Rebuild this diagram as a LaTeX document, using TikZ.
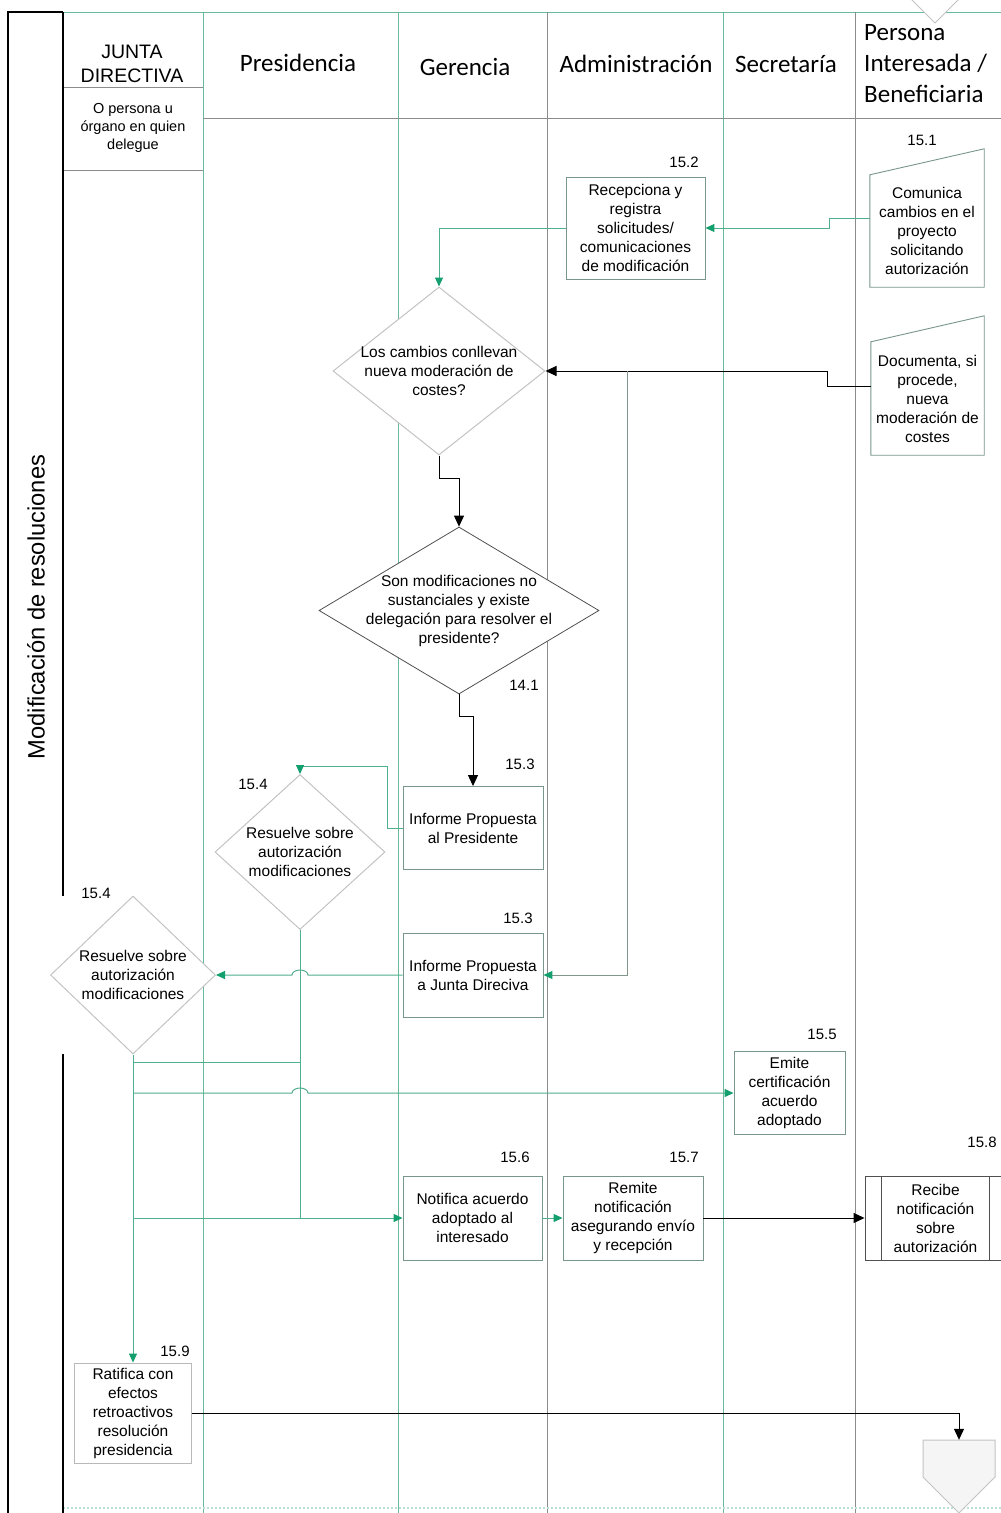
\documentclass[tikz,border=0pt]{standalone}
\usepackage{fontspec}
\setmainfont{Liberation Sans}
\newfontfamily\hdfont{Carlito}
\usetikzlibrary{shapes.geometric,arrows.meta}
\definecolor{lanegreen}{RGB}{105,185,155}
\definecolor{lanegray}{RGB}{140,140,140}
\definecolor{congreen}{RGB}{80,175,140}
\definecolor{headgreen}{RGB}{20,160,110}
\definecolor{boxc}{RGB}{120,150,140}
\definecolor{lightd}{RGB}{195,195,195}
\definecolor{darkb}{RGB}{80,80,80}
\definecolor{splitc}{RGB}{130,150,140}
\begin{document}
\begin{tikzpicture}[x=1pt,y=-1pt,
  body/.style={font=\fontsize{15.5}{19}\selectfont, align=center, inner sep=0pt},
  box/.style={body, draw=boxc, fill=white, line width=0.9pt},
  ghost/.style={body, draw=none},
  dia/.style={diamond, draw=lightd, fill=white, line width=1pt, inner sep=0pt},
  num/.style={font=\fontsize{15}{18}\selectfont, inner sep=0pt},
  hd/.style={font={\hdfont\fontsize{25}{31}\selectfont}, inner sep=0pt},
  lane/.style={lanegreen, line width=1pt},
  laneg/.style={lanegray, line width=1pt},
  gcon/.style={congreen, line width=1pt},
  garrow/.style={gcon, -{Triangle[length=9pt,width=8pt,color=headgreen]}},
  barrow/.style={black, line width=1pt, -{Triangle[length=11pt,width=10pt]}},
]
\useasboundingbox (0,0) rectangle (1001,1513);
\fill[white] (0,0) rectangle (1001,1513);

% swimlanes
\draw[lane] (63,12) -- (1001,12);
\foreach \x in {203,398,723} \draw[lane] (\x,12) -- (\x,1513);
\foreach \x in {547,855} \draw[laneg] (\x,12) -- (\x,1513);
\draw[laneg] (203,118) -- (1001,118);
\draw[laneg] (63,87) -- (203,87);
\draw[laneg] (63,170) -- (203,170);
\draw[lanegreen!45, line width=1.5pt, dash pattern=on 2pt off 2pt] (63,1508) -- (1001,1508);

% headers
\node[font=\fontsize{19.5}{24}\selectfont, align=center, inner sep=0pt] (hjd) at (132,64) {JUNTA\\DIRECTIVA};
\node[font=\fontsize{14.5}{18}\selectfont, align=center, inner sep=0pt] (hdel) at (133,128) {O persona u\\órgano en quien\\delegue};
\node[hd] (hpres) at (298,63) {Presidencia};
\node[hd] (hger) at (465,67) {Gerencia};
\node[hd] (hadm) at (636,64) {Administración};
\node[hd] (hsec) at (786,64) {Secretaría};
\node[hd, align=left, anchor=west] (hper) at (864,64) {Persona\\Interesada /\\Beneficiaria};
\node[rotate=90, font=\fontsize{23.7}{28}\selectfont, inner sep=0pt] (title) at (36,607) {Modificación de resoluciones};

% off-page connectors
\filldraw[draw=lightd, fill=white, line width=1pt] (899,-40) -- (899,-13) -- (935,23) -- (971,-13) -- (971,-40);
\node[draw=none, minimum width=72pt, minimum height=73pt, inner sep=0pt] (opb) at (959,1476.5) {};
\filldraw[draw=lightd, fill=gray!8, line width=1pt] (923,1440) -- (995,1440) -- (995,1477) -- (959,1513) -- (923,1477) -- cycle;

% shapes
\node[ghost, minimum width=114pt, minimum height=112pt] (p151) at (927,231) {Comunica\\cambios en el\\proyecto\\solicitando\\autorización};
\draw[boxc, line width=0.9pt] (p151.south west) -- (p151.south east) -- ([yshift=26pt]p151.north east) -- (p151.north west) -- cycle;
\node[ghost, minimum width=113pt, minimum height=113pt] (doc) at (927.5,398.5) {Documenta, si\\procede,\\nueva\\moderación de\\costes};
\draw[boxc, line width=0.9pt] (doc.south west) -- (doc.south east) -- ([yshift=26pt]doc.north east) -- (doc.north west) -- cycle;

\node[box, minimum width=139pt, minimum height=102pt] (b152) at (635.5,228) {Recepciona y\\registra\\solicitudes/\\comunicaciones\\de modificación};

\node[dia, minimum width=212pt, minimum height=168pt] (d1) at (439,371) {};
\node[ghost] (d1t) at (d1.center) {Los cambios conllevan\\nueva moderación de\\costes?};
\node[dia, draw=darkb, line width=0.8pt, minimum width=280pt, minimum height=167pt] (d2) at (459,610.5) {};
\node[ghost] (d2t) at (d2.center) {Son modificaciones no\\sustanciales y existe\\delegación para resolver el\\presidente?};

\node[box, minimum width=140pt, minimum height=83pt] (b153a) at (473,828) {Informe Propuesta\\al Presidente};
\node[box, minimum width=140pt, minimum height=84pt] (b153b) at (473,975) {Informe Propuesta\\a Junta Direciva};

\node[dia, minimum width=170pt, minimum height=155pt] (d154a) at (300,852) {};
\node[ghost] (d154at) at (d154a.center) {Resuelve sobre\\autorización\\modificaciones};
\node[dia, minimum width=165pt, minimum height=158pt] (d154b) at (133,975) {};
\node[ghost] (d154bt) at (d154b.center) {Resuelve sobre\\autorización\\modificaciones};

\node[box, minimum width=111pt, minimum height=83pt] (b155) at (789.5,1093) {Emite\\certificación\\acuerdo\\adoptado};
\node[box, minimum width=139pt, minimum height=84pt] (b156) at (472.5,1218) {Notifica acuerdo\\adoptado al\\interesado};
\node[box, minimum width=140pt, minimum height=84pt] (b157) at (633,1218) {Remite\\notificación\\asegurando envío\\y recepción};
\node[box, draw=darkb, minimum width=141pt, minimum height=84pt] (b158) at (935.5,1218) {Recibe\\notificación\\sobre\\autorización};
\draw[darkb, line width=0.9pt] ([xshift=17pt]b158.north west) -- ([xshift=17pt]b158.south west);
\draw[darkb, line width=0.9pt] ([xshift=-17pt]b158.north east) -- ([xshift=-17pt]b158.south east);
\node[box, draw=gray!55, minimum width=117pt, minimum height=100pt] (b159) at (133,1413) {Ratifica con\\efectos\\retroactivos\\resolución\\presidencia};

% step numbers
\node[num] (n151) at (922,140) {15.1};
\node[num] (n152) at (684,162) {15.2};
\node[num] (n141) at (524,685) {14.1};
\node[num] (n153a) at (520,764) {15.3};
\node[num] (n154a) at (253,784) {15.4};
\node[num] (n153b) at (518,918) {15.3};
\node[num] (n154b) at (96,893) {15.4};
\node[num] (n155) at (822,1034) {15.5};
\node[num] (n156) at (515,1157) {15.6};
\node[num] (n157) at (684,1157) {15.7};
\node[num] (n158) at (982,1142) {15.8};
\node[num] (n159) at (175,1351) {15.9};

% junction coordinates
\coordinate (split) at (627,371);
\coordinate (ja) at (133,1062);
\coordinate (jb) at (300,1062);
\coordinate (jc) at (133,1093);
\coordinate (jd) at (133,1218);
\coordinate (je) at (300,1218);

% connectors
\draw[garrow] ([yshift=13pt]p151.west) -- ++(-40,0) |- (b152.east);
\draw[garrow] (b152.west) -| (d1.north);
\draw[barrow] ([yshift=12pt]doc.west) -- ++(-43,0) |- (d1.east);
\draw[splitc, line width=1pt, -{Triangle[length=9pt,width=8pt,color=headgreen]}] (split) |- (b153b.east);
\draw[barrow] (d1.south) -- ++(0,23) -| (d2.north);
\draw[barrow] (d2.south) -- ++(0,22) -| (b153a.north);
\draw[garrow] (b153a.west) -- ++(-15,0) |- ([yshift=8pt]d154a.north) -- (d154a.north);
\draw[garrow] (b153b.west) -- (308,975) arc[start angle=0,end angle=180,x radius=8pt,y radius=5pt] -- (d154b.east);
\draw[gcon] (d154a.south) -- (je);
\draw[garrow] (d154b.south) -- (b159.north);
\draw[gcon] (ja) -- (jb);
\draw[garrow] (jc) -- (292,1093) arc[start angle=180,end angle=0,x radius=8pt,y radius=5pt] -- (b155.west);
\draw[garrow] (jd) -- (b156.west);
\draw[garrow] (b156.east) -- (b157.west);
\draw[barrow] (b157.east) -- (b158.west);
\draw[barrow] (b159.east) -| (opb.north);

% outer frame
\draw[black, line width=2pt] (8,1513) -- (8,12) -- (63,12);
\draw[black, line width=2pt] (63,12) -- (63,896);
\draw[black, line width=2pt] (63,1054) -- (63,1513);
\end{tikzpicture}
\end{document}
